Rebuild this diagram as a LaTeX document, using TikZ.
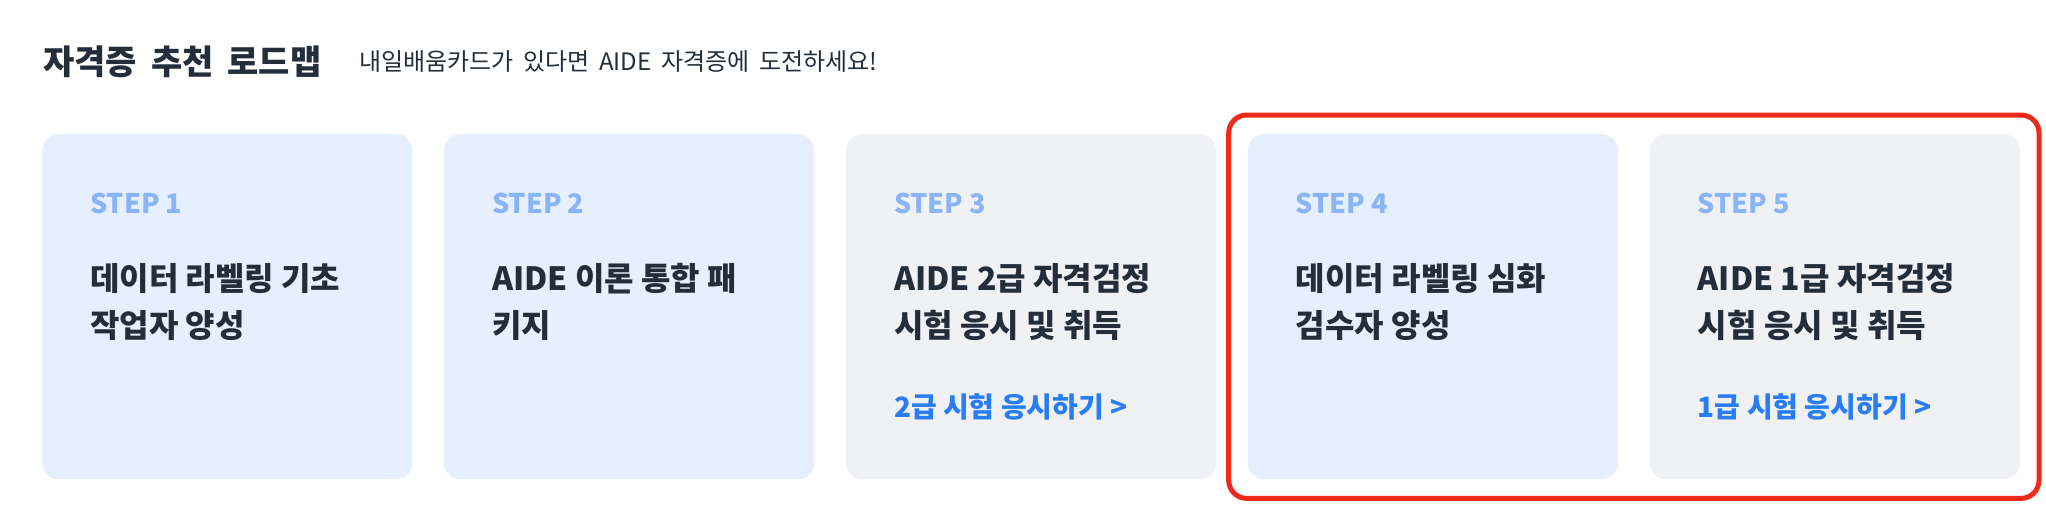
\documentclass[tikz,border=0pt]{standalone}
\usepackage{fontspec}
\setmainfont{Noto Sans CJK KR}[WordSpace=1.8]
\newfontfamily\krwide{Noto Sans CJK KR}[WordSpace=3]
\newfontfamily\krtight{Noto Sans CJK KR}
\usepackage{tikz}
\usetikzlibrary{positioning,fit}

\definecolor{ink}{RGB}{36,45,58}
\definecolor{stepblue}{RGB}{138,180,248}
\definecolor{linkblue}{RGB}{40,125,245}
\definecolor{cardblue}{RGB}{229,239,253}
\definecolor{cardgray}{RGB}{240,241,245}
\definecolor{hired}{RGB}{240,42,26}

\begin{document}
\begin{tikzpicture}[
  x=1pt, y=-1pt,
  heading/.style={anchor=base west, inner sep=0pt, text=ink, font=\fontsize{34}{40}\selectfont\bfseries},
  subhead/.style={anchor=base west, inner sep=0pt, text=ink, font=\fontsize{24}{28}\selectfont},
  card/.style={anchor=north west, inner sep=0pt, rounded corners=16pt, minimum width=370pt, minimum height=345pt},
  steplbl/.style={anchor=base west, inner sep=0pt, text=stepblue, font=\krtight\fontsize{27}{30}\selectfont\bfseries},
  cardtitle/.style={anchor=base west, inner sep=0pt, align=left, text=ink, font=\krwide\fontsize{32}{47}\selectfont\bfseries},
  examlink/.style={anchor=base west, inner sep=0pt, text=linkblue, font=\krtight\fontsize{28}{30}\selectfont\bfseries},
  hilite/.style={draw=hired, line width=5pt, rounded corners=18pt, inner sep=19pt}
]
\useasboundingbox (0,0) rectangle (2046,530);

\node[heading] (T) at (43,74.5) {자격증 추천 로드맵};
\node[subhead] (Sub) at (359,70) {내일배움카드가 있다면 AIDE 자격증에 도전하세요!};

% cards
\node[card, fill=cardblue] (C1) at (42,134) {};
\node[card, fill=cardblue, right=31.5pt of C1] (C2) {};
\node[card, fill=cardgray, right=31.5pt of C2] (C3) {};
\node[card, fill=cardblue, right=31.5pt of C3] (C4) {};
\node[card, fill=cardgray, right=31.5pt of C4] (C5) {};

\node[steplbl] (S1) at ([xshift=48pt, yshift=-79pt]C1.north west) {STEP 1};
\node[steplbl] (S2) at ([xshift=48pt, yshift=-79pt]C2.north west) {STEP 2};
\node[steplbl] (S3) at ([xshift=48pt, yshift=-79pt]C3.north west) {STEP 3};
\node[steplbl] (S4) at ([xshift=48pt, yshift=-79pt]C4.north west) {STEP 4};
\node[steplbl] (S5) at ([xshift=48pt, yshift=-79pt]C5.north west) {STEP 5};

% base of a two-line title is its second line
\node[cardtitle] (N1) at ([xshift=48pt, yshift=-203pt]C1.north west) {데이터 라벨링 기초\\작업자 양성};
\node[cardtitle] (N2) at ([xshift=48pt, yshift=-203pt]C2.north west) {AIDE 이론 통합 패\\키지};
\node[cardtitle] (N3) at ([xshift=48pt, yshift=-203pt]C3.north west) {AIDE 2급 자격검정\\시험 응시 및 취득};
\node[cardtitle] (N4) at ([xshift=48pt, yshift=-203pt]C4.north west) {데이터 라벨링 심화\\검수자 양성};
\node[cardtitle] (N5) at ([xshift=48pt, yshift=-203pt]C5.north west) {AIDE 1급 자격검정\\시험 응시 및 취득};

\node[examlink] (L3) at ([xshift=48pt, yshift=-283pt]C3.north west) {2급 시험 응시하기 >};
\node[examlink] (L5) at ([xshift=48pt, yshift=-283pt]C5.north west) {1급 시험 응시하기 >};

% highlight round steps 4 and 5
\node[hilite, fit=(C4)(C5)] (HL) {};
\end{tikzpicture}
\end{document}
